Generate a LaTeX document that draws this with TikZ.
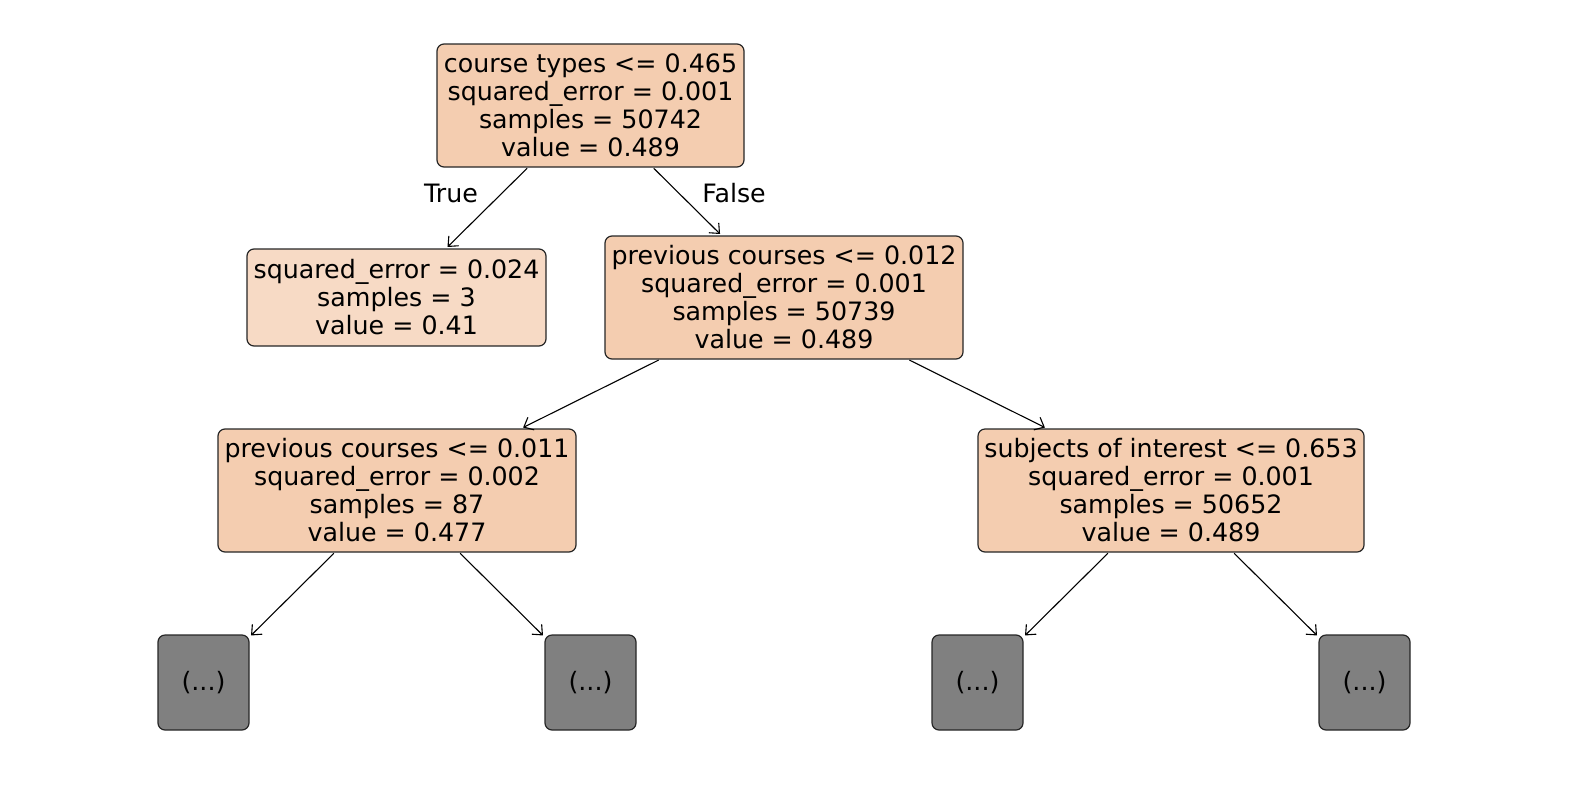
\documentclass[tikz,border=0pt]{standalone}
\usepackage{fontspec}
\setmainfont{DejaVu Sans}
\usetikzlibrary{arrows.meta}
\definecolor{nodefill}{HTML}{F4CDB0}
\definecolor{leaffill}{HTML}{F7DAC5}
\definecolor{grayfill}{HTML}{808080}
\begin{document}
\begin{tikzpicture}[x=1pt,y=-1pt,
  every node/.style={font=\fontsize{25.3}{28}\selectfont},
  box/.style={draw=black!85, line width=1.2pt, rounded corners=7pt, align=center, inner sep=0pt, fill=nodefill},
  dots/.style={box, fill=grayfill, minimum width=91pt, minimum height=95pt},
  edge/.style={draw=black, line width=1.1pt, -{Straight Barb[length=8pt,width=14pt,line width=1.1pt]}, shorten >=2pt, shorten <=1pt},
  lbl/.style={inner sep=0pt}]
\useasboundingbox (0,0) rectangle (1570,790);
\node[box, minimum width=307pt, minimum height=123pt] (root) at (590.5,105.5) {course types <= 0.465\\squared\_error = 0.001\\samples = 50742\\value = 0.489};
\node[box, fill=leaffill, minimum width=299pt, minimum height=97pt] (l1) at (396.5,297.5) {squared\_error = 0.024\\samples = 3\\value = 0.41};
\node[box, minimum width=358pt, minimum height=123pt] (r1) at (784,297.5) {previous courses <= 0.012\\squared\_error = 0.001\\samples = 50739\\value = 0.489};
\node[box, minimum width=358pt, minimum height=123pt] (l2) at (397,490.5) {previous courses <= 0.011\\squared\_error = 0.002\\samples = 87\\value = 0.477};
\node[box, minimum width=386pt, minimum height=123pt] (r2) at (1171,490.5) {subjects of interest <= 0.653\\squared\_error = 0.001\\samples = 50652\\value = 0.489};
\node[dots] (d1) at (203.5,682.5) {(...)};
\node[dots] (d2) at (590.5,682.5) {(...)};
\node[dots] (d3) at (977.5,682.5) {(...)};
\node[dots] (d4) at (1364.5,682.5) {(...)};
\draw[edge] (root) -- (l1);
\draw[edge] (root) -- (r1);
\draw[edge] (r1) -- (l2);
\draw[edge] (r1) -- (r2);
\draw[edge] (l2) -- (d1);
\draw[edge] (l2) -- (d2);
\draw[edge] (r2) -- (d3);
\draw[edge] (r2) -- (d4);
\node[lbl] (tl) at (451,193) {True};
\node[lbl] (fl) at (734,193) {False};
\end{tikzpicture}
\end{document}
